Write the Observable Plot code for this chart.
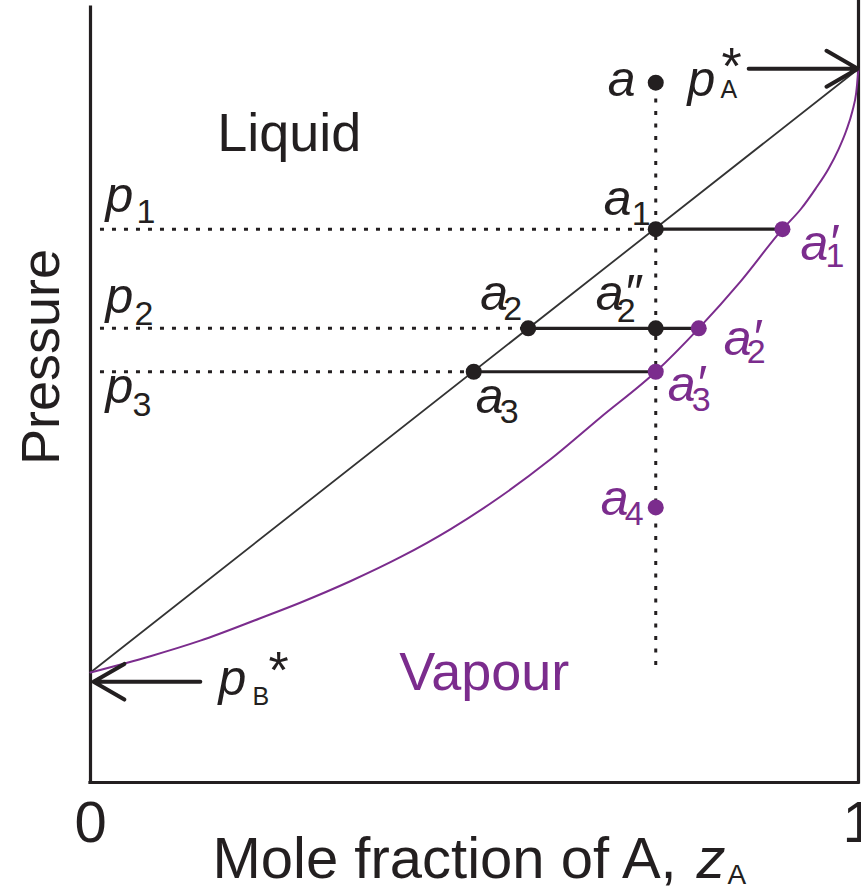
<!DOCTYPE html>
<html><head><meta charset="utf-8">
<script src="https://cdn.jsdelivr.net/npm/d3@7"></script>
<script src="https://cdn.jsdelivr.net/npm/@observablehq/plot@0.6"></script>
<style>
html,body{margin:0;padding:0;background:#fff;}
#chart{width:861px;height:890px;overflow:hidden;}
</style></head><body><div id="chart"></div>
<script>
// ---- data (mole fraction of A, pressure in arbitrary units) ----
const xTicks = [0, 1];
const frameTop = [1.0, 1.01];
const liquidX = [0, 1];
const liquidP = [0.142, 0.921];
const vapourX = [0, 0.078, 0.143, 0.221, 0.273, 0.339, 0.404, 0.469, 0.534, 0.599, 0.664, 0.736, 0.792, 0.846, 0.901, 0.925, 0.944, 0.961, 0.974, 0.984, 0.992, 0.997, 1.0];
const vapourP = [0.142, 0.163, 0.183, 0.212, 0.232, 0.260, 0.291, 0.327, 0.369, 0.417, 0.471, 0.530, 0.586, 0.646, 0.714, 0.740, 0.766, 0.792, 0.817, 0.841, 0.866, 0.890, 0.921];
const pointNames = ["a", "a1", "a1'", "a2", "a2''", "a2'", "a3", "a3'", "a4"];
const pointX = [0.736, 0.736, 0.901, 0.570, 0.736, 0.792, 0.499, 0.736, 0.736];
const pointP = [0.903, 0.714, 0.714, 0.586, 0.586, 0.586, 0.530, 0.530, 0.355];
const pointPhase = ["liquid", "liquid", "vapour", "liquid", "liquid", "vapour", "liquid", "vapour", "vapour"];
const levelNames = ["p1", "p2", "p3"];
const levelP = [0.714, 0.586, 0.530];
const levelStartX = [0.013, 0.013, 0.013];
const levelEndX = [0.736, 0.570, 0.499];
const tieLiquidX = [0.736, 0.570, 0.499];
const tieVapourX = [0.901, 0.792, 0.736];
const tieP = [0.714, 0.586, 0.530];
const isoplethX = [0.736];
const isoplethP = [0.151, 0.886];
const arrowNames = ["pA*", "pB*"];
const arrowFromX = [0.857, 0.143];
const arrowToX = [0.999, 0.004];
const arrowP = [0.921, 0.130];
const regionNames = ["Liquid", "Vapour"];
const regionX = [0.165, 0.402];
const regionP = [0.815, 0.119];
const axisLabelX = ["Mole fraction of A, ", "z", "A"];
const axisLabelY = "Pressure";

// ---- styles ----
const ink = "#231f20", purple = "#7b2c8d";
const F = "'Liberation Sans', Arial, Helvetica, sans-serif";

const vapour = vapourX.map((x, i) => ({x, p: vapourP[i]}));
const liquid = liquidX.map((x, i) => ({x, p: liquidP[i]}));
const points = pointNames.map((name, i) => ({name, x: pointX[i], p: pointP[i], phase: pointPhase[i]}));
const levels = levelNames.map((name, i) => ({name, p: levelP[i], x1: levelStartX[i], x2: levelEndX[i]}));
const ties = tieP.map((p, i) => ({p, x1: tieLiquidX[i], x2: tieVapourX[i]}));
const arrows = arrowNames.map((name, i) => ({name, x1: arrowFromX[i], x2: arrowToX[i], p: arrowP[i]}));

function txt(s, x, y, o) {
  return Plot.text([s], {x, y, text: d => d, fontFamily: F, lineAnchor: "bottom", textAnchor: "start", fill: ink, ...o});
}

const marks = [];
// frame
marks.push(Plot.ruleX(xTicks.map((x, i) => ({x, top: frameTop[i]})), {x: "x", y1: 0, y2: "top", stroke: ink, strokeWidth: 3.2, strokeLinecap: "square"}));
marks.push(Plot.ruleY([0], {x1: xTicks[0], x2: xTicks[1], stroke: ink, strokeWidth: 3.2, strokeLinecap: "square"}));
// curves
marks.push(Plot.line(liquid, {x: "x", y: "p", stroke: "#333", strokeWidth: 1.8}));
marks.push(Plot.line(vapour, {x: "x", y: "p", stroke: purple, strokeWidth: 2, curve: "monotone-x"}));
// dotted guides
marks.push(Plot.ruleY(levels, {y: "p", x1: "x1", x2: "x2", stroke: ink, strokeWidth: 3, strokeDasharray: "4,8"}));
marks.push(Plot.ruleX(isoplethX, {x: d => d, y1: isoplethP[0], y2: isoplethP[1], stroke: ink, strokeWidth: 3, strokeDasharray: "4,8.5"}));
// tie lines
marks.push(Plot.link(ties, {x1: "x1", x2: "x2", y1: "p", y2: "p", stroke: ink, strokeWidth: 3.2}));
// arrows
marks.push(Plot.arrow(arrows, {x1: "x1", x2: "x2", y1: "p", y2: "p", stroke: ink, strokeWidth: 4, headLength: 13.5, headAngle: 60}));
// points
marks.push(Plot.dot(points, {x: "x", y: "p", r: 8, fill: d => d.phase === "liquid" ? ink : purple, stroke: "none"}));

// point labels
const pointLayout = {
  "a":    {dx: -48, dy: 13},
  "a1":   {dx: -52, dy: -14, sdx: -24, sdy: -4},
  "a1'":  {dx: 18, dy: 31, sdx: 43, sdy: 38},
  "a2":   {dx: -48, dy: -18, sdx: -25, sdy: -8},
  "a2''": {dx: -60, dy: -18, sdx: -39, sdy: -6},
  "a2'":  {dx: 25, dy: 27, sdx: 48, sdy: 35},
  "a3":   {dx: 2, dy: 41, sdx: 26, sdy: 51},
  "a3'":  {dx: 12, dy: 29, sdx: 36, sdy: 39},
  "a4":   {dx: -55, dy: 8, sdx: -31, sdy: 18}
};
for (const d of points) {
  const m = d.name.match(/^([a-z])(\d?)('*)$/);
  const base = m[1] + (m[3] === "''" ? "\u2033" : m[3] === "'" ? "\u2032" : "");
  const color = d.phase === "vapour" && d.name !== "a2''" ? purple : ink;
  const L = pointLayout[d.name];
  marks.push(txt(base, d.x, d.p, {dx: L.dx, dy: L.dy, fontSize: 50, fontStyle: "italic", fill: color}));
  if (m[2]) marks.push(txt(m[2], d.x, d.p, {dx: L.sdx, dy: L.sdy, fontSize: 34, fill: color}));
}
// pressure level labels
const levelLayout = [
  {dx: 15, dy: -17, sdx: 46, sdy: -6},
  {dx: 15, dy: -15, sdx: 44, sdy: -3},
  {dx: 15, dy: 31, sdx: 42, sdy: 44}
];
levels.forEach((d, i) => {
  const L = levelLayout[i];
  marks.push(txt(d.name[0], xTicks[0], d.p, {dx: L.dx, dy: L.dy, fontSize: 50, fontStyle: "italic"}));
  marks.push(txt(d.name.slice(1), xTicks[0], d.p, {dx: L.sdx, dy: L.sdy, fontSize: 34}));
});
// pure-component vapour pressure labels
const arrowLayout = [
  {ax: liquidX[1], ap: liquidP[1], dx: -171, dy: 27, sdx: -138, sdy: 29, tdx: -137, tdy: 15},
  {ax: liquidX[0], ap: liquidP[0], dx: 128, dy: 23, sdx: 162, sdy: 33, tdx: 178, tdy: 16}
];
arrows.forEach((d, i) => {
  const L = arrowLayout[i];
  marks.push(txt(d.name[0], L.ax, L.ap, {dx: L.dx, dy: L.dy, fontSize: 50, fontStyle: "italic"}));
  marks.push(txt(d.name[1], L.ax, L.ap, {dx: L.sdx, dy: L.sdy, fontSize: 25}));
  marks.push(txt(d.name[2], L.ax, L.ap, {dx: L.tdx, dy: L.tdy, fontSize: 52}));
});
// region labels
regionNames.forEach((s, i) => {
  marks.push(txt(s, regionX[i], regionP[i], {fontSize: 54, fill: i === 0 ? ink : purple}));
});
// axis labels
marks.push(Plot.axisX(xTicks, {tickSize: 0, tickPadding: 18, fontSize: 58, label: null, tickFormat: d => String(d), fontFamily: F}));
marks.push(Plot.text([axisLabelY], {frameAnchor: "left", rotate: -90, textAnchor: "middle", lineAnchor: "bottom", dx: -32, dy: -38, fontSize: 54, fontFamily: F, fill: ink}));
marks.push(Plot.text([axisLabelX[0]], {frameAnchor: "bottom-left", textAnchor: "start", lineAnchor: "bottom", dx: 122, dy: 95, fontSize: 58, fontFamily: F, fill: ink}));
marks.push(Plot.text([axisLabelX[1]], {frameAnchor: "bottom-left", textAnchor: "start", lineAnchor: "bottom", dx: 606, dy: 95, fontSize: 58, fontStyle: "italic", fontFamily: F, fill: ink}));
marks.push(Plot.text([axisLabelX[2]], {frameAnchor: "bottom-left", textAnchor: "start", lineAnchor: "bottom", dx: 637, dy: 101, fontSize: 28, fontFamily: F, fill: ink}));

const chart = Plot.plot({
  width: 861,
  height: 890,
  marginLeft: 90,
  marginRight: 3,
  marginTop: 7,
  marginBottom: 108,
  x: {domain: [0, 1], axis: null},
  y: {domain: [0, 1], axis: null},
  style: {fontFamily: F, background: "#fff", color: ink, overflow: "visible"},
  marks
});
document.getElementById("chart").appendChild(chart);
</script></body></html>
